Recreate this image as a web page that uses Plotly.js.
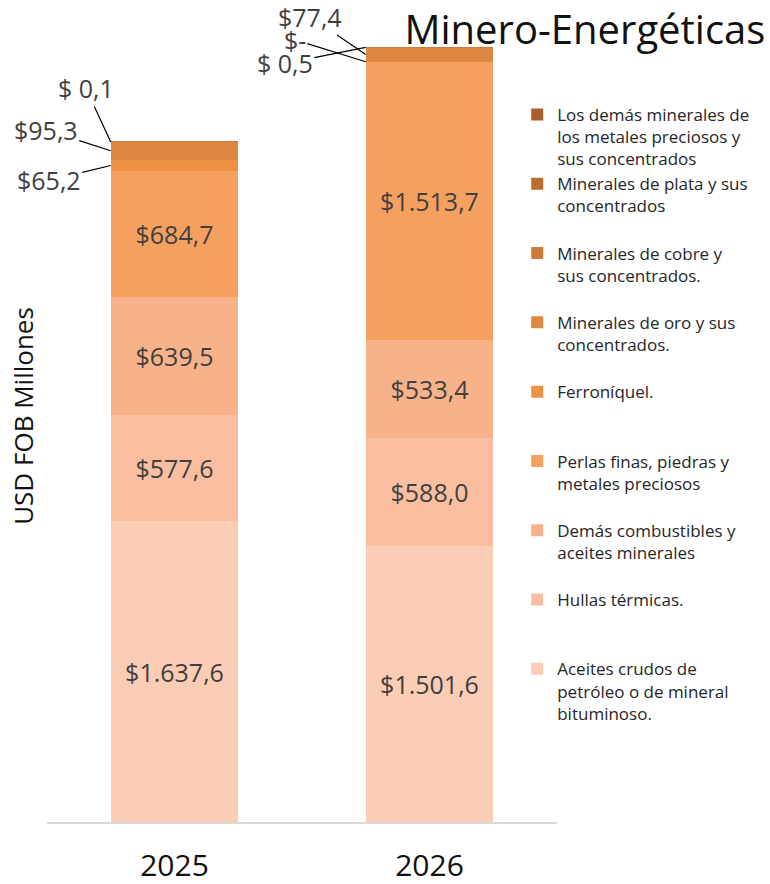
<!DOCTYPE html>
<html>
<head>
<meta charset="utf-8">
<script src="https://cdn.plot.ly/plotly-3.0.1.min.js"></script>
<style>
  body { margin: 0; background: #fff; }
  #chart { width: 770px; height: 884px; }
</style>
</head>
<body>
<div id="chart"></div>
<script>
var years = ['2025', '2026'];

// series from bottom to top of the stack
var names = [
    'Aceites crudos de<br>petróleo o de mineral<br>bituminoso.',
    'Hullas térmicas.',
    'Demás combustibles y<br>aceites minerales',
    'Perlas finas, piedras y<br>metales preciosos',
    'Ferroníquel.',
    'Minerales de oro y sus<br>concentrados.',
    'Minerales de cobre y<br>sus concentrados.',
    'Minerales de plata y sus<br>concentrados',
    'Los demás minerales de<br>los metales preciosos y<br>sus concentrados'
];
var aceites = [1637.6, 1501.6];
var hullas = [577.6, 588.0];
var combustibles = [639.5, 533.4];
var perlas = [684.7, 1513.7];
var ferroniquel = [65.2, 0];
var oro = [95.3, 77.4];
var cobre = [0.1, 0.5];
var plata = [0, 0];
var demas = [0, 0];

var colors = ['#fbcdb4', '#f9be9f', '#f8b28a', '#f6a060', '#ef9142',
              '#df8640', '#cd7a3a', '#bb6c30', '#a75f2b'];

var values = [aceites, hullas, combustibles, perlas, ferroniquel, oro, cobre, plata, demas];
var labelInside = [true, true, true, true, false, false, false, false, false];

function fmt(v) {
    if (v === 0) return '$-';
    var s = v.toFixed(1).split('.');
    var ent = s[0].replace(/\B(?=(\d{3})+(?!\d))/g, '.');
    return (v < 1 ? '$ ' : '$') + ent + ',' + s[1];
}

// pad legend names to 3 lines so the entries are evenly spaced
function padName(n) {
    var lines = n.split('<br>').length;
    while (lines < 3) { n += '<br>&nbsp;'; lines++; }
    return n;
}

var traces = [];
for (var i = 0; i < values.length; i++) {
    traces.push({
        type: 'bar',
        x: years,
        y: values[i],
        name: padName(names[i]),
        marker: { color: colors[i] },
        text: values[i].map(fmt),
        textposition: labelInside[i] ? 'inside' : 'none',
        insidetextanchor: 'middle',
        textangle: 0,
        insidetextfont: { size: 25, color: '#404040' },
        hoverinfo: 'x+y+name'
    });
}

// outside labels for the thin segments: [series, year index, ax, ay, where]
var outside = [
    [4, 0, -62, 15, 'mid'],
    [5, 0, -65, -21, 'mid'],
    [6, 0, -25, -54, 'top'],
    [4, 1, -71, -22, 'base'],
    [5, 1, -56, -38, 'mid'],
    [6, 1, -81, 16, 'top']
];

function baseOf(s, j) {
    var b = 0;
    for (var k = 0; k < s; k++) b += values[k][j];
    return b;
}

var annotations = outside.map(function(o) {
    var v = values[o[0]][o[1]];
    var b = baseOf(o[0], o[1]);
    var y = o[4] === 'top' ? b + v : (o[4] === 'mid' ? b + v / 2 : b);
    return {
        x: o[1] - 0.25, y: y,
        xref: 'x', yref: 'y',
        text: fmt(v),
        showarrow: true, arrowhead: 0, arrowwidth: 1.2, arrowcolor: '#000',
        ax: o[2], ay: o[3],
        font: { size: 25, color: '#404040' }
    };
});

var layout = {
    width: 770,
    height: 884,
    barmode: 'stack',
    bargap: 0.5,
    font: { family: 'Open Sans, Noto Sans, sans-serif', color: '#262626' },
    margin: { l: 47, r: 213, t: 10, b: 62 },
    paper_bgcolor: '#fff',
    plot_bgcolor: '#fff',
    title: {
        text: 'Minero-Energéticas',
        font: { size: 40, color: '#111' },
        x: 0.994, xanchor: 'right',
        y: 0.966, yanchor: 'middle'
    },
    xaxis: {
        type: 'category',
        range: [-0.5, 1.5],
        showline: true, linecolor: '#d9d9d9', linewidth: 2,
        ticks: '', ticklabelstandoff: 16,
        tickfont: { size: 30, color: '#111' }
    },
    yaxis: {
        range: [0, 4418],
        showgrid: false, zeroline: false, showticklabels: false, ticks: '',
        title: { text: 'USD FOB Millones', font: { size: 26, color: '#111' }, standoff: 4 }
    },
    legend: {
        x: 0.922, xanchor: 'left',
        y: 0.893, yanchor: 'top',
        traceorder: 'reversed',
        valign: 'top',
        font: { size: 17, color: '#262626' },
        bgcolor: 'rgba(0,0,0,0)'
    },
    annotations: annotations,
    showlegend: true
};

Plotly.newPlot('chart', traces, layout, { displayModeBar: false });
</script>
</body>
</html>
